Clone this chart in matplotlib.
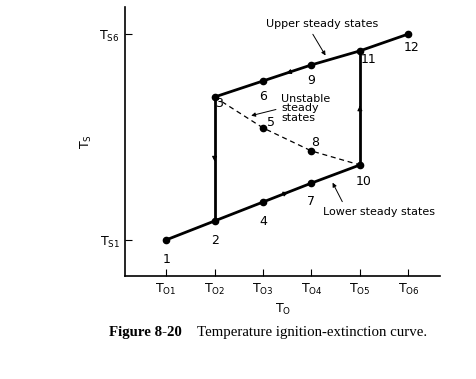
import matplotlib.pyplot as plt

plt.rcParams['mathtext.default'] = 'regular'
plt.rcParams['font.family'] = 'DejaVu Sans'

# values (x: T01..T06 -> 1..6, y: Ts1 -> 1, Ts6 -> 6)
lower_x = [1, 2, 3, 4, 5]
lower_y = [1.0, 1.46, 1.92, 2.38, 2.82]
lower_lbl = ['1', '2', '4', '7', '10']

upper_x = [2, 3, 4, 5, 6]
upper_y = [4.47, 4.86, 5.25, 5.59, 6.0]
upper_lbl = ['3', '6', '9', '11', '12']

unstable_x = [2, 3, 4, 5]
unstable_y = [4.47, 3.72, 3.16, 2.82]
unstable_lbl = ['5', '8']

x_ticks = [1, 2, 3, 4, 5, 6]
x_tick_labels = ['T$_{O1}$', 'T$_{O2}$', 'T$_{O3}$', 'T$_{O4}$', 'T$_{O5}$', 'T$_{O6}$']
y_ticks = [1, 6]
y_tick_labels = ['T$_{S1}$', 'T$_{S6}$']

fig = plt.figure(figsize=(4.76, 3.79), dpi=100)
ax = fig.add_axes([0.263, 0.272, 0.662, 0.710])

# dashed unstable branch
ax.plot(unstable_x, unstable_y, color='black', lw=0.9, ls=(0, (4, 3)))
ax.plot(unstable_x[1:3], unstable_y[1:3], 'o', color='black', ms=4.5)

# solid branches + jumps
ax.plot(lower_x, lower_y, color='black', lw=2, marker='o', ms=4.5)
ax.plot(upper_x, upper_y, color='black', lw=2, marker='o', ms=4.5)
ax.plot([lower_x[1], upper_x[0]], [lower_y[1], upper_y[0]], color='black', lw=2)
ax.plot([lower_x[4], upper_x[3]], [lower_y[4], upper_y[3]], color='black', lw=2)

# small direction arrows
def mid_arrow(x0, y0, x1, y1):
    xm, ym = (x0 + x1) / 2, (y0 + y1) / 2
    dx, dy = (x1 - x0) * 0.02, (y1 - y0) * 0.02
    ax.annotate('', xy=(xm + dx, ym + dy), xytext=(xm - dx, ym - dy),
                arrowprops=dict(arrowstyle='-|>', color='black', lw=0.8,
                                mutation_scale=7))

mid_arrow(lower_x[2], lower_y[2], lower_x[3], lower_y[3])
mid_arrow(upper_x[2], upper_y[2], upper_x[1], upper_y[1])
mid_arrow(upper_x[0], upper_y[0], lower_x[1], lower_y[1])
mid_arrow(lower_x[4], lower_y[4], upper_x[3], upper_y[3])

# point numbers
fs = 9
lower_off = [(0, -14), (0, -14), (0, -14), (0, -13), (3, -12)]
for x, y, s, o in zip(lower_x, lower_y, lower_lbl, lower_off):
    ax.annotate(s, (x, y), xytext=o, textcoords='offset points', ha='center', va='center', fontsize=fs)
upper_off = [(3, -5), (0, -11), (0, -11), (6, -6), (2, -10)]
for x, y, s, o in zip(upper_x, upper_y, upper_lbl, upper_off):
    ax.annotate(s, (x, y), xytext=o, textcoords='offset points', ha='center', va='center', fontsize=fs)
unst_off = [(6, 4), (3, 6)]
for x, y, s, o in zip(unstable_x[1:3], unstable_y[1:3], unstable_lbl, unst_off):
    ax.annotate(s, (x, y), xytext=o, textcoords='offset points', ha='center', va='center', fontsize=fs)

# branch annotations
ax.annotate('Upper steady states', xy=(4.32, 5.42), xytext=(4.22, 6.24),
            ha='center', va='center', fontsize=8,
            arrowprops=dict(arrowstyle='-|>', color='black', lw=0.7,
                            mutation_scale=6, relpos=(0.39, 0)))
ax.annotate('Unstable\nsteady\nstates', xy=(2.7, 4.0), xytext=(3.38, 4.2),
            ha='left', va='center', fontsize=8, linespacing=0.95,
            arrowprops=dict(arrowstyle='-|>', color='black', lw=0.7,
                            mutation_scale=6, relpos=(0, 0.5)))
ax.annotate('Lower steady states', xy=(4.41, 2.45), xytext=(4.23, 1.68),
            ha='left', va='center', fontsize=8,
            arrowprops=dict(arrowstyle='-|>', color='black', lw=0.7,
                            mutation_scale=6, relpos=(0.2, 1)))

ax.set_xlim(0.155, 6.66)
ax.set_ylim(0.126, 6.66)
ax.set_xticks(x_ticks)
ax.set_xticklabels(x_tick_labels)
ax.set_yticks(y_ticks)
ax.set_yticklabels(y_tick_labels)
ax.tick_params(direction='in', length=5, width=0.8, labelsize=9, pad=4)
for s in ['top', 'right']:
    ax.spines[s].set_visible(False)
for s in ['left', 'bottom']:
    ax.spines[s].set_linewidth(1.2)
ax.set_xlabel('T$_O$', fontsize=9, labelpad=4)
ax.set_ylabel('T$_S$', fontsize=9, labelpad=4)

fig.text(0.229, 0.124, 'Figure 8-20', fontsize=10.7, fontweight='bold',
         family='Liberation Serif', va='center')
fig.text(0.414, 0.124, 'Temperature ignition-extinction curve.', fontsize=10.7,
         family='Liberation Serif', va='center')

fig.savefig('out.png', dpi=100)
